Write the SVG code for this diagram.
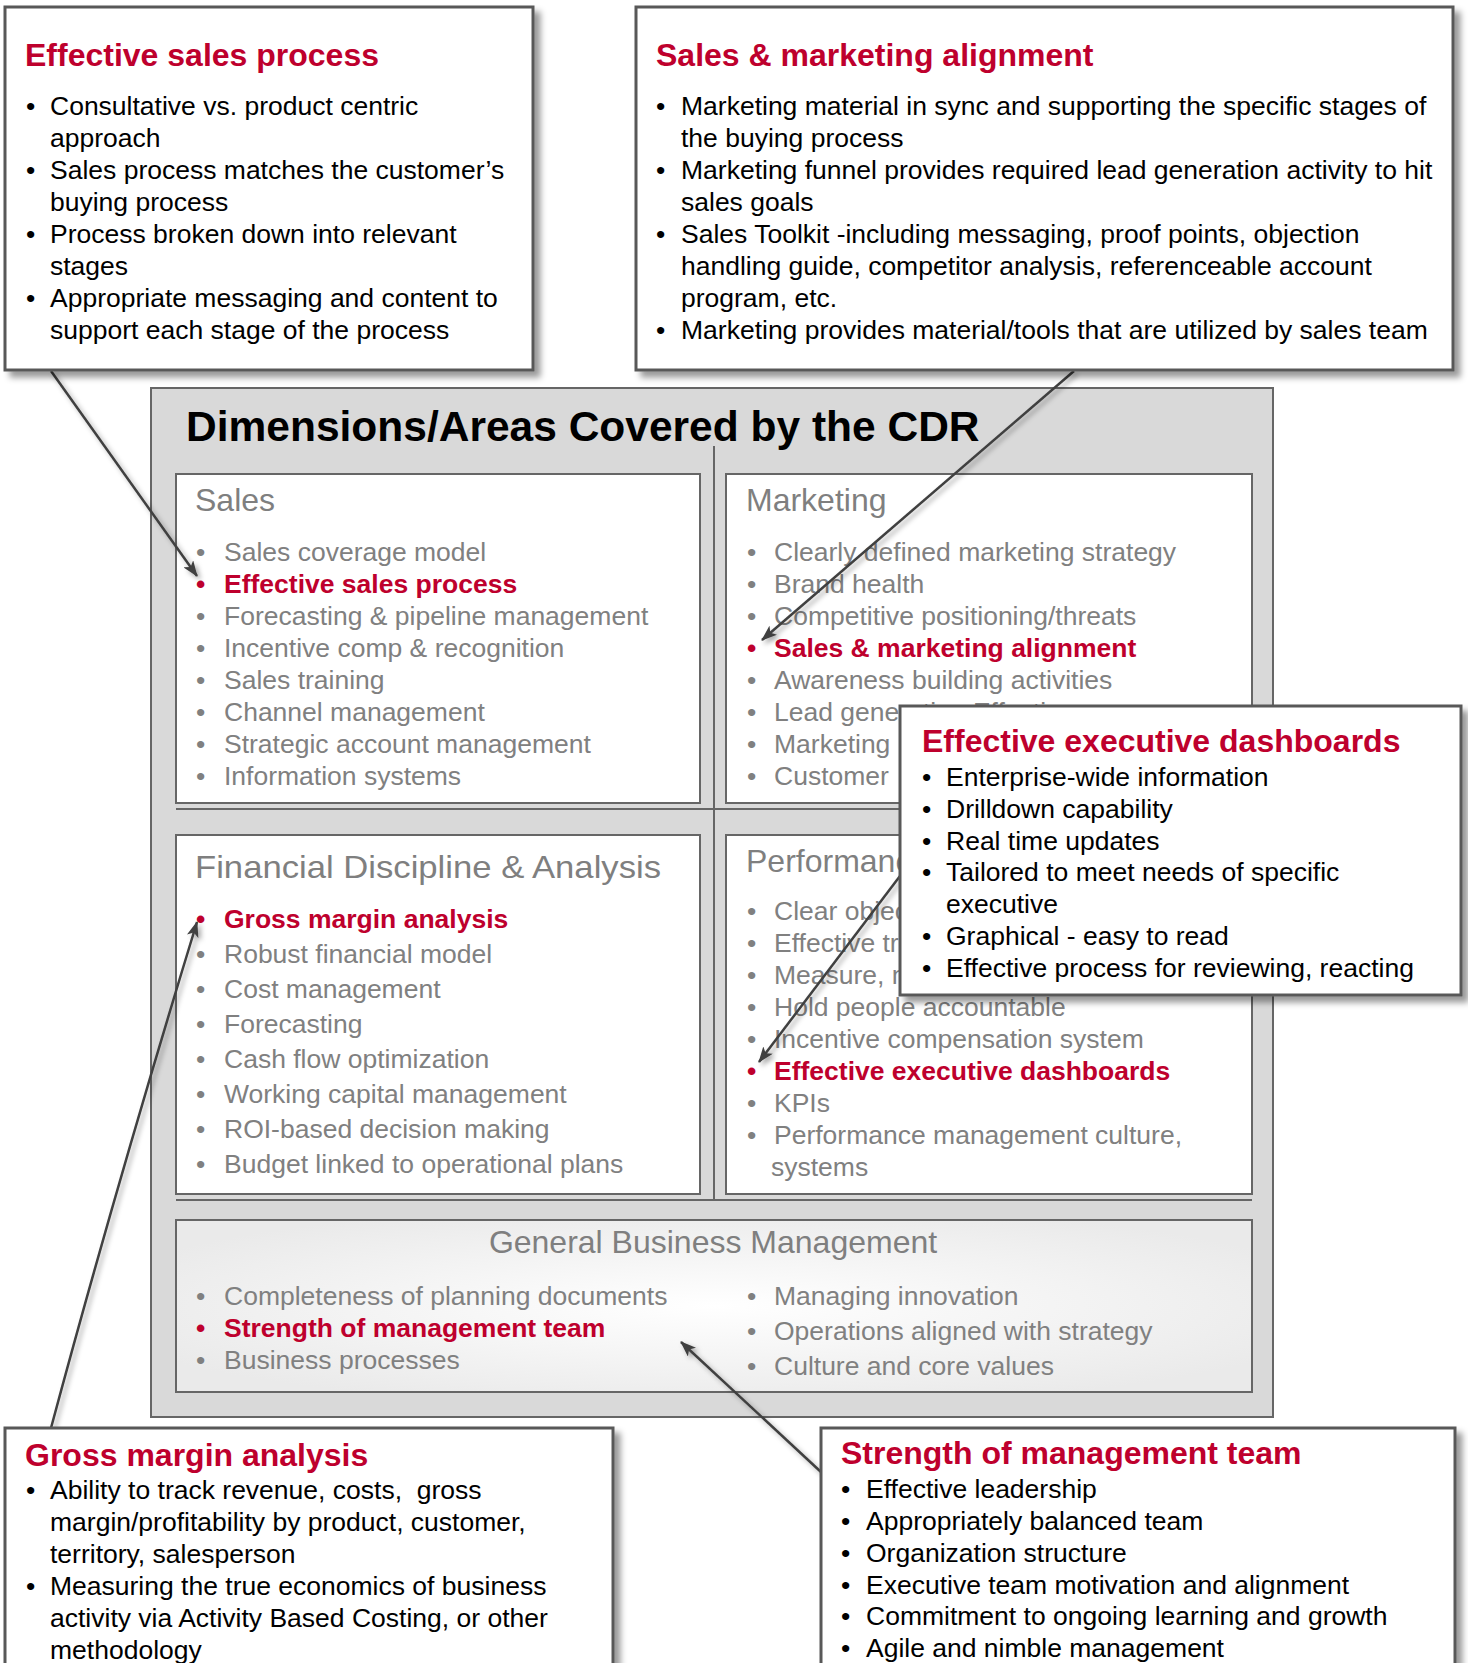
<svg xmlns="http://www.w3.org/2000/svg" width="1468" height="1663" viewBox="0 0 1468 1663">
<defs>
<style>
text{font-family:"Liberation Sans",Arial,Helvetica,sans-serif}
.cb{fill:#fff;stroke:#595959;stroke-width:3}
.ib{fill:#fff;stroke:#666;stroke-width:2}
.gl{stroke:#666;stroke-width:2;fill:none}
.ct{font-weight:bold;font-size:32px;fill:#BE002D}
.cx{font-size:26.5px;fill:#000}
.st{font-size:32px;fill:#7F7F7F}
.it{font-size:26.5px;fill:#808080}
.hl{font-weight:bold;fill:#BE002D}
.conn{stroke:#3F3F3F;stroke-width:2.5;fill:none;marker-end:url(#ah)}
</style>
<filter id="sh" x="-5%" y="-5%" width="115%" height="115%">
<feDropShadow dx="6" dy="6" stdDeviation="3" flood-color="#000" flood-opacity="0.4"/>
</filter>
<filter id="lsh" x="-20%" y="-20%" width="140%" height="140%">
<feDropShadow dx="3" dy="3" stdDeviation="2.5" flood-color="#000" flood-opacity="0.35"/>
</filter>
<radialGradient id="gbm" cx="0.5" cy="0.5" r="0.6">
<stop offset="0" stop-color="#FFFFFF"/>
<stop offset="1" stop-color="#EAEAEA"/>
</radialGradient>
<marker id="ah" viewBox="0 0 16 12" refX="15" refY="6" markerWidth="16" markerHeight="12" markerUnits="userSpaceOnUse" orient="auto">
<path d="M0,0 L16,6 L0,12 L4,6 z" fill="#3F3F3F"/>
</marker>
</defs>

<g id="container">
<rect x="151" y="388" width="1122" height="1029" fill="#D9D9D9" stroke="#666" stroke-width="2"/>
<text x="186" y="441" font-size="42.5" font-weight="bold" fill="#000">Dimensions/Areas Covered by the CDR</text>
<line class="gl" x1="714" y1="446" x2="714" y2="1200"/>
<line class="gl" x1="176" y1="809" x2="1252" y2="809"/>
<line class="gl" x1="176" y1="1200" x2="1252" y2="1200"/>
</g>

<g id="sales">
<rect class="ib" x="176" y="474" width="524" height="329"/>
<text class="st" x="195" y="511">Sales</text>
<g class="it">
<text x="196" y="561">•</text><text x="224" y="561">Sales coverage model</text>
<text x="196" y="593" class="hl">•</text><text x="224" y="593" class="hl">Effective sales process</text>
<text x="196" y="625">•</text><text x="224" y="625">Forecasting &amp; pipeline management</text>
<text x="196" y="657">•</text><text x="224" y="657">Incentive comp &amp; recognition</text>
<text x="196" y="689">•</text><text x="224" y="689">Sales training</text>
<text x="196" y="721">•</text><text x="224" y="721">Channel management</text>
<text x="196" y="753">•</text><text x="224" y="753">Strategic account management</text>
<text x="196" y="785">•</text><text x="224" y="785">Information systems</text>
</g>
</g>

<g id="marketing">
<rect class="ib" x="726" y="474" width="526" height="329"/>
<text class="st" x="746" y="511">Marketing</text>
<g class="it">
<text x="747" y="561">•</text><text x="774" y="561">Clearly defined marketing strategy</text>
<text x="747" y="593">•</text><text x="774" y="593">Brand health</text>
<text x="747" y="625">•</text><text x="774" y="625">Competitive positioning/threats</text>
<text x="747" y="657" class="hl">•</text><text x="774" y="657" class="hl">Sales &amp; marketing alignment</text>
<text x="747" y="689">•</text><text x="774" y="689">Awareness building activities</text>
<text x="747" y="721">•</text><text x="774" y="721">Lead generation Effectiveness</text>
<text x="747" y="753">•</text><text x="774" y="753">Marketing</text>
<text x="747" y="785">•</text><text x="774" y="785">Customer</text>
</g>
</g>

<g id="financial">
<rect class="ib" x="176" y="835" width="524" height="359"/>
<text class="st" x="195" y="878" font-size="35" textLength="466" lengthAdjust="spacingAndGlyphs">Financial Discipline &amp; Analysis</text>
<g class="it">
<text x="196" y="928" class="hl">•</text><text x="224" y="928" class="hl">Gross margin analysis</text>
<text x="196" y="963">•</text><text x="224" y="963">Robust financial model</text>
<text x="196" y="998">•</text><text x="224" y="998">Cost management</text>
<text x="196" y="1033">•</text><text x="224" y="1033">Forecasting</text>
<text x="196" y="1068">•</text><text x="224" y="1068">Cash flow optimization</text>
<text x="196" y="1103">•</text><text x="224" y="1103">Working capital management</text>
<text x="196" y="1138">•</text><text x="224" y="1138">ROI-based decision making</text>
<text x="196" y="1173">•</text><text x="224" y="1173">Budget linked to operational plans</text>
</g>
</g>

<g id="performance">
<rect class="ib" x="726" y="835" width="526" height="359"/>
<text class="st" x="746" y="872">Performance</text>
<g class="it">
<text x="747" y="920">•</text><text x="774" y="920">Clear objec</text>
<text x="747" y="952">•</text><text x="774" y="952">Effective tra</text>
<text x="747" y="984">•</text><text x="774" y="984">Measure, m</text>
<text x="747" y="1016">•</text><text x="774" y="1016">Hold people accountable</text>
<text x="747" y="1048">•</text><text x="774" y="1048">Incentive compensation system</text>
<text x="747" y="1080" class="hl">•</text><text x="774" y="1080" class="hl">Effective executive dashboards</text>
<text x="747" y="1112">•</text><text x="774" y="1112">KPIs</text>
<text x="747" y="1144">•</text><text x="774" y="1144">Performance management culture,</text>
<text x="771" y="1176">systems</text>
</g>
</g>

<g id="general-business-management">
<rect x="176" y="1220" width="1076" height="172" fill="url(#gbm)" stroke="#666" stroke-width="2"/>
<text class="st" x="713" y="1253" text-anchor="middle">General Business Management</text>
<g class="it">
<text x="196" y="1305">•</text><text x="224" y="1305">Completeness of planning documents</text>
<text x="196" y="1337" class="hl">•</text><text x="224" y="1337" class="hl">Strength of management team</text>
<text x="196" y="1369">•</text><text x="224" y="1369">Business processes</text>
<text x="747" y="1305">•</text><text x="774" y="1305">Managing innovation</text>
<text x="747" y="1340">•</text><text x="774" y="1340">Operations aligned with strategy</text>
<text x="747" y="1375">•</text><text x="774" y="1375">Culture and core values</text>
</g>
</g>

<g id="connectors" filter="url(#lsh)">
<line class="conn" x1="51" y1="371" x2="197" y2="576"/>
<line class="conn" x1="1074" y1="371" x2="762" y2="640"/>
<path class="conn" d="M51,1428 Q115,1190 197,922"/>
<line class="conn" x1="900" y1="876" x2="759" y2="1062"/>
<line class="conn" x1="821" y1="1472" x2="681" y2="1342"/>
</g>

<g id="callout-effective-sales-process">
<rect class="cb" x="5" y="7" width="528" height="363" filter="url(#sh)"/>
<text class="ct" x="25" y="66">Effective sales process</text>
<g class="cx">
<text x="26" y="115">•</text><text x="50" y="115">Consultative vs. product centric</text>
<text x="50" y="147">approach</text>
<text x="26" y="179">•</text><text x="50" y="179">Sales process matches the customer’s</text>
<text x="50" y="211">buying process</text>
<text x="26" y="243">•</text><text x="50" y="243">Process broken down into relevant</text>
<text x="50" y="275">stages</text>
<text x="26" y="307">•</text><text x="50" y="307">Appropriate messaging and content to</text>
<text x="50" y="339">support each stage of the process</text>
</g>
</g>

<g id="callout-sales-marketing-alignment">
<rect class="cb" x="636" y="7" width="817" height="363" filter="url(#sh)"/>
<text class="ct" x="656" y="66">Sales &amp; marketing alignment</text>
<g class="cx">
<text x="656" y="115">•</text><text x="681" y="115">Marketing material in sync and supporting the specific stages of</text>
<text x="681" y="147">the buying process</text>
<text x="656" y="179">•</text><text x="681" y="179">Marketing funnel provides required lead generation activity to hit</text>
<text x="681" y="211">sales goals</text>
<text x="656" y="243">•</text><text x="681" y="243">Sales Toolkit -including messaging, proof points, objection</text>
<text x="681" y="275">handling guide, competitor analysis, referenceable account</text>
<text x="681" y="307">program, etc.</text>
<text x="656" y="339">•</text><text x="681" y="339">Marketing provides material/tools that are utilized by sales team</text>
</g>
</g>

<g id="callout-effective-executive-dashboards">
<rect class="cb" x="900" y="706" width="561" height="289" filter="url(#sh)"/>
<text class="ct" x="922" y="752">Effective executive dashboards</text>
<g class="cx">
<text x="922" y="786">•</text><text x="946" y="786">Enterprise-wide information</text>
<text x="922" y="818">•</text><text x="946" y="818">Drilldown capability</text>
<text x="922" y="850">•</text><text x="946" y="850">Real time updates</text>
<text x="922" y="881">•</text><text x="946" y="881">Tailored to meet needs of specific</text>
<text x="946" y="913">executive</text>
<text x="922" y="945">•</text><text x="946" y="945">Graphical - easy to read</text>
<text x="922" y="977">•</text><text x="946" y="977">Effective process for reviewing, reacting</text>
</g>
</g>

<g id="callout-gross-margin-analysis">
<rect class="cb" x="5" y="1428" width="608" height="270" filter="url(#sh)"/>
<text class="ct" x="25" y="1466">Gross margin analysis</text>
<g class="cx">
<text x="26" y="1499">•</text><text x="50" y="1499" style="white-space:pre">Ability to track revenue, costs,  gross</text>
<text x="50" y="1531">margin/profitability by product, customer,</text>
<text x="50" y="1563">territory, salesperson</text>
<text x="26" y="1595">•</text><text x="50" y="1595">Measuring the true economics of business</text>
<text x="50" y="1627">activity via Activity Based Costing, or other</text>
<text x="50" y="1659">methodology</text>
</g>
</g>

<g id="callout-strength-of-management-team">
<rect class="cb" x="821" y="1428" width="634" height="270" filter="url(#sh)"/>
<text class="ct" x="841" y="1464">Strength of management team</text>
<g class="cx">
<text x="841" y="1498">•</text><text x="866" y="1498">Effective leadership</text>
<text x="841" y="1530">•</text><text x="866" y="1530">Appropriately balanced team</text>
<text x="841" y="1562">•</text><text x="866" y="1562">Organization structure</text>
<text x="841" y="1594">•</text><text x="866" y="1594">Executive team motivation and alignment</text>
<text x="841" y="1625">•</text><text x="866" y="1625">Commitment to ongoing learning and growth</text>
<text x="841" y="1657">•</text><text x="866" y="1657">Agile and nimble management</text>
</g>
</g>
</svg>
